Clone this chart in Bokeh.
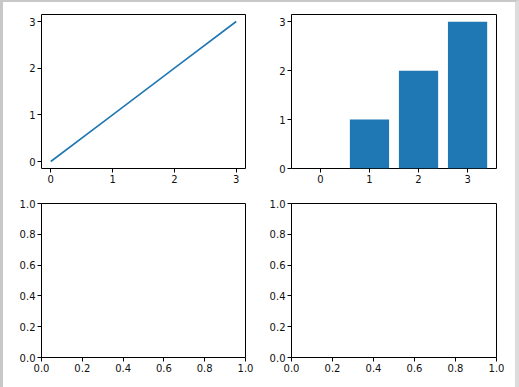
from bokeh.plotting import figure
from bokeh.layouts import column, row
from bokeh.models import Range1d, FixedTicker
from bokeh.embed import file_html
from bokeh.resources import INLINE

# data
line_x = [0, 1, 2, 3]
line_y = [0, 1, 2, 3]
bar_x = [0, 1, 2, 3]
bar_h = [0, 1, 2, 3]
int_ticks = [0, 1, 2, 3]
unit_ticks = [0.0, 0.2, 0.4, 0.6, 0.8, 1.0]
unit_labels = {0.0: "0.0", 0.2: "0.2", 0.4: "0.4", 0.6: "0.6", 0.8: "0.8", 1.0: "1.0"}

BLUE = "#1f77b4"
FONT = "DejaVu Sans"


def make_fig(xr, yr, xt, yt, left, right, top, bottom, fh, xlab=None, ylab=None):
    p = figure(frame_width=0, frame_height=0, output_backend="svg", toolbar_location=None,
               x_range=Range1d(*xr), y_range=Range1d(*yr))
    p.frame_width = 205 if left == 32 else 204
    p.frame_height = fh
    p.min_border_left = left
    p.min_border_right = right
    p.min_border_top = top
    p.min_border_bottom = bottom
    p.grid.visible = False
    p.outline_line_color = "black"
    p.outline_line_width = 1
    p.outline_line_alpha = 1
    p.background_fill_color = "white"
    p.border_fill_color = "white"
    for ax, ticks, labs in ((p.xaxis, xt, xlab), (p.yaxis, yt, ylab)):
        ax.ticker = FixedTicker(ticks=ticks)
        ax.minor_tick_line_color = None
        ax.major_tick_in = 0
        ax.major_tick_out = 4
        ax.major_tick_line_color = "black"
        ax.axis_line_color = None
        ax.major_label_standoff = 2
        ax.major_label_text_font = FONT
        ax.major_label_text_font_size = "10px"
        ax.major_label_text_color = "#111111"
        if labs:
            ax.major_label_overrides = labs
    return p


p1 = make_fig((-0.15, 3.15), (-0.15, 3.15), int_ticks, int_ticks, 38, 14, 12, 22, 154)
p1.line(line_x, line_y, line_color=BLUE, line_width=1.6)

p2 = make_fig((-0.59, 3.59), (0, 3.15), int_ticks, int_ticks, 32, 19, 12, 22, 154)
p2.vbar(x=bar_x, top=bar_h, bottom=0, width=0.8, fill_color=BLUE, line_color=None)

p3 = make_fig((0, 1), (0, 1), unit_ticks, unit_ticks, 38, 14, 13, 30, 154, unit_labels, unit_labels)
p4 = make_fig((0, 1), (0, 1), unit_ticks, unit_ticks, 32, 19, 13, 30, 154, unit_labels, unit_labels)

layout = column(row(p1, p2), row(p3, p4),
                styles={"border-left": "3px solid #c8c8c8",
                        "border-top": "2px solid #c8c8c8",
                        "border-right": "4px solid #dcdcdc",
                        "background-color": "white"})

open("out.html", "w").write(file_html(layout, INLINE))
